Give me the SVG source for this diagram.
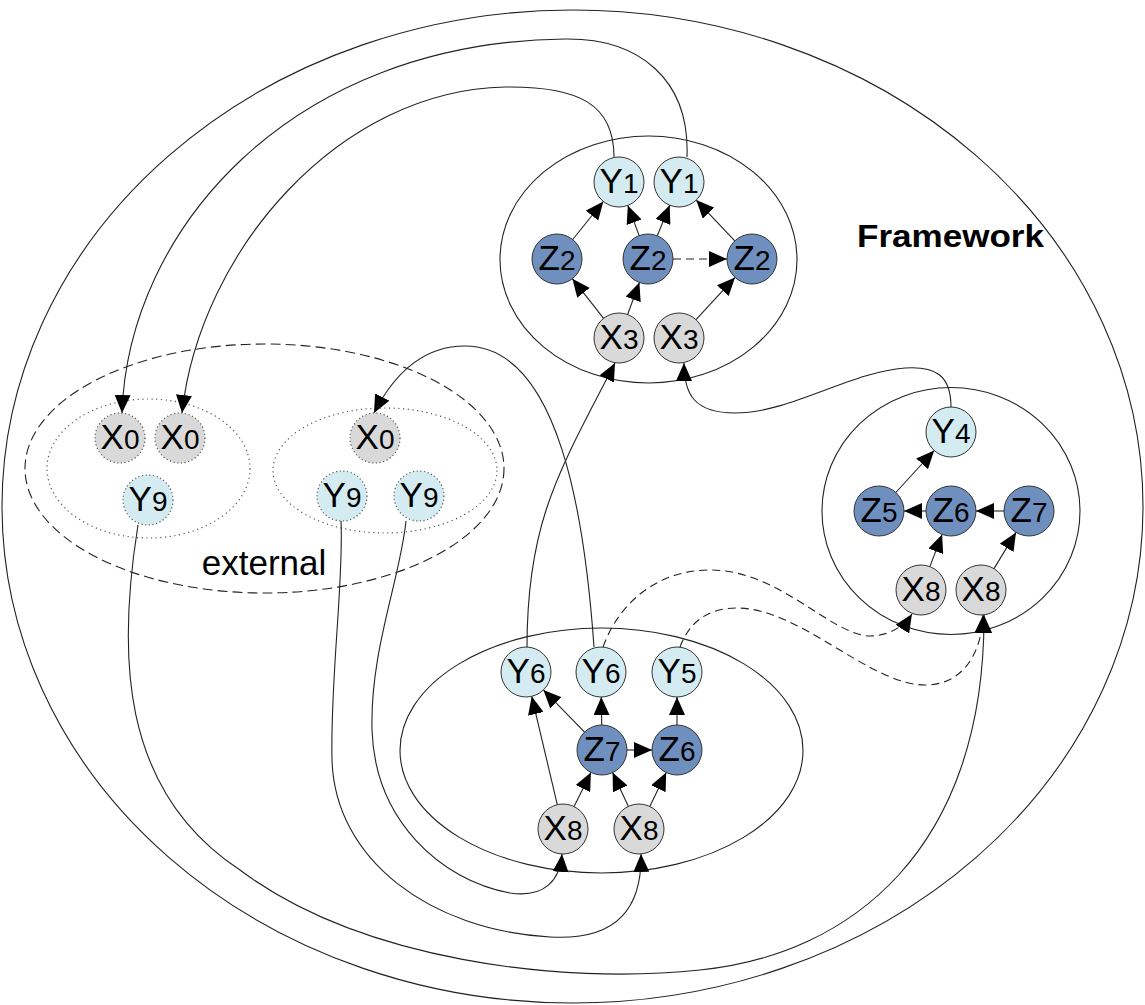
<svg xmlns="http://www.w3.org/2000/svg" width="1145" height="1005" viewBox="0 0 1145 1005">
  <defs>
    <marker id="arrow" markerUnits="userSpaceOnUse" markerWidth="18" markerHeight="16" viewBox="0 0 18 16" refX="18" refY="8" orient="auto">
      <path d="M0,0 L18,8 L0,16 z" fill="#000"/>
    </marker>
    <style>
      .frame { fill: none; stroke: #222; stroke-width: 1.1; }
      .ext { fill: none; stroke: #222; stroke-width: 1.1; stroke-dasharray: 10 5; }
      .group { fill: none; stroke: #555; stroke-width: 1.2; stroke-dasharray: 1.2 3.5; }
      .edge { fill: none; stroke: #222; stroke-width: 1.1; marker-end: url(#arrow); }
      .dash { stroke-dasharray: 8 5; }
      .y { fill: #d4ecf1; stroke: #333; stroke-width: 1; }
      .z { fill: #6f8fbe; stroke: #333; stroke-width: 1; }
      .x { fill: #d9d9d9; stroke: #333; stroke-width: 1; }
      .obs { stroke: #555; stroke-width: 1.2; stroke-dasharray: 1.2 2.5; }
      .lbl { font-family: "Liberation Sans", Arial, sans-serif; font-size: 35px; fill: #000; text-anchor: middle; }
      .sub { font-size: 28px; }
      .title { font-family: "Liberation Sans", Arial, sans-serif; font-size: 32px; font-weight: bold; fill: #000; }
      .caption { font-family: "Liberation Sans", Arial, sans-serif; font-size: 35px; fill: #000; text-anchor: middle; }
    </style>
  </defs>

  <rect width="1145" height="1005" fill="#fff"/>

  <!-- enclosing regions -->
  <g id="regions">
    <ellipse id="framework" class="frame" cx="572.5" cy="506.5" rx="570.5" ry="496.5"/>
    <ellipse id="external-region" class="ext" cx="264.5" cy="468.5" rx="239.5" ry="124.5"/>
    <ellipse id="ext-left" class="group" cx="148.5" cy="468.5" rx="101.5" ry="69.5"/>
    <ellipse id="ext-right" class="group" cx="385" cy="470.5" rx="112" ry="62.5"/>
    <ellipse id="cluster-top" class="frame" cx="648.5" cy="259.5" rx="148.5" ry="123.5"/>
    <ellipse id="cluster-bottom" class="frame" cx="601.5" cy="750.5" rx="201.5" ry="122.5"/>
    <ellipse id="cluster-right" class="frame" cx="951" cy="511" rx="129" ry="123.5"/>
    <text class="title" x="857" y="247" textLength="187" lengthAdjust="spacingAndGlyphs">Framework</text>
    <text class="caption" x="264" y="575">external</text>
  </g>

  <!-- connectors -->
  <g id="connectors">
    <!-- top cluster -->
    <line class="edge" x1="572.7" y1="239.5" x2="603.3" y2="201.5"/>
    <line class="edge" x1="639.2" y1="235.6" x2="627.8" y2="205.4"/>
    <line class="edge" x1="657.3" y1="235.8" x2="669.7" y2="205.2"/>
    <line class="edge" x1="734.8" y1="240.9" x2="696.2" y2="200.1"/>
    <line class="edge" x1="603.6" y1="318.3" x2="572.4" y2="278.7"/>
    <line class="edge" x1="627.6" y1="314.5" x2="639.4" y2="282.5"/>
    <line class="edge" x1="696" y1="319.6" x2="735" y2="277.4"/>
    <line class="edge dash" x1="673" y1="259" x2="727" y2="259"/>

    <!-- bottom cluster -->
    <line class="edge" x1="557.3" y1="804.7" x2="531.7" y2="696.3"/>
    <line class="edge" x1="574.1" y1="806.6" x2="590.9" y2="772.4"/>
    <line class="edge" x1="628.4" y1="806.4" x2="612.6" y2="772.6"/>
    <line class="edge" x1="649.8" y1="806.5" x2="666.2" y2="772.5"/>
    <line class="edge" x1="584.6" y1="732.1" x2="543.4" y2="689.9"/>
    <line class="edge" x1="601.7" y1="725" x2="601.3" y2="697"/>
    <line class="edge" x1="627" y1="750" x2="652" y2="750"/>
    <line class="edge" x1="677" y1="725" x2="677" y2="697"/>

    <!-- right cluster -->
    <line class="edge" x1="895.8" y1="492.5" x2="934.2" y2="450.5"/>
    <line class="edge" x1="926" y1="511" x2="904" y2="511"/>
    <line class="edge" x1="1004" y1="511" x2="976" y2="511"/>
    <line class="edge" x1="929.9" y1="566.6" x2="942.1" y2="534.4"/>
    <line class="edge" x1="994" y1="568.6" x2="1016" y2="532.4"/>

    <!-- long-range links -->
    <path class="edge" d="M687 157 C690 80 640 38 565 39 C290 42 128 230 122 413"/>
    <path class="edge" d="M614 157 C614 105 580 86 505 87 C340 90 200 250 182 413"/>
    <path class="edge" d="M594 647 C585 520 560 346 465 346 C420 346 392 378 374 413"/>
    <path class="edge" d="M527 647 C527 520 560 470 615 363"/>
    <path class="edge" d="M951 407 C951 375 935 366 905 368 C850 372 790 413 735 413 C695 413 684 395 684 363"/>
    <path class="edge" d="M138 525 C118 650 118 790 240 870 C360 960 560 985 700 970 C850 955 985 850 984 615"/>
    <path class="edge" d="M341 521 C344 580 330 680 332 760 C335 860 430 930 550 937 C620 941 642 905 641 854"/>
    <path class="edge" d="M406 521 C400 580 370 650 372 730 C375 820 440 880 510 893 C545 898 560 880 562 854"/>
    <path class="edge dash" d="M603 647 C620 600 660 570 710 570 C780 570 830 635 870 636 C890 636 905 625 912 614"/>
    <path class="edge dash" d="M680 647 C690 620 710 608 737 608 C800 608 870 685 925 685 C965 685 982 650 983 615"/>
  </g>

  <!-- top cluster nodes -->
  <g id="n-y1a"><circle class="y" cx="619" cy="182" r="25"/><text class="lbl" x="619" y="193">Y<tspan class="sub">1</tspan></text></g>
  <g id="n-y1b"><circle class="y" cx="679" cy="182" r="25"/><text class="lbl" x="679" y="193">Y<tspan class="sub">1</tspan></text></g>
  <g id="n-z2a"><circle class="z" cx="557" cy="259" r="25"/><text class="lbl" x="557" y="270">Z<tspan class="sub">2</tspan></text></g>
  <g id="n-z2b"><circle class="z" cx="648" cy="259" r="25"/><text class="lbl" x="648" y="270">Z<tspan class="sub">2</tspan></text></g>
  <g id="n-z2c"><circle class="z" cx="752" cy="259" r="25"/><text class="lbl" x="752" y="270">Z<tspan class="sub">2</tspan></text></g>
  <g id="n-x3a"><circle class="x" cx="619" cy="338" r="25"/><text class="lbl" x="619" y="349">X<tspan class="sub">3</tspan></text></g>
  <g id="n-x3b"><circle class="x" cx="679" cy="338" r="25"/><text class="lbl" x="679" y="349">X<tspan class="sub">3</tspan></text></g>

  <!-- external nodes -->
  <g id="n-x0a"><circle class="x obs" cx="120" cy="438" r="25"/><text class="lbl" x="120" y="449">X<tspan class="sub">0</tspan></text></g>
  <g id="n-x0b"><circle class="x obs" cx="180" cy="438" r="25"/><text class="lbl" x="180" y="449">X<tspan class="sub">0</tspan></text></g>
  <g id="n-y9a"><circle class="y obs" cx="148" cy="500" r="25"/><text class="lbl" x="148" y="511">Y<tspan class="sub">9</tspan></text></g>
  <g id="n-x0c"><circle class="x obs" cx="375" cy="438" r="25"/><text class="lbl" x="375" y="449">X<tspan class="sub">0</tspan></text></g>
  <g id="n-y9b"><circle class="y obs" cx="342" cy="496" r="25"/><text class="lbl" x="342" y="507">Y<tspan class="sub">9</tspan></text></g>
  <g id="n-y9c"><circle class="y obs" cx="419" cy="496" r="25"/><text class="lbl" x="419" y="507">Y<tspan class="sub">9</tspan></text></g>

  <!-- bottom cluster nodes -->
  <g id="n-y6a"><circle class="y" cx="526" cy="672" r="25"/><text class="lbl" x="526" y="683">Y<tspan class="sub">6</tspan></text></g>
  <g id="n-y6b"><circle class="y" cx="601" cy="672" r="25"/><text class="lbl" x="601" y="683">Y<tspan class="sub">6</tspan></text></g>
  <g id="n-y5"><circle class="y" cx="677" cy="672" r="25"/><text class="lbl" x="677" y="683">Y<tspan class="sub">5</tspan></text></g>
  <g id="n-z7"><circle class="z" cx="602" cy="750" r="25"/><text class="lbl" x="602" y="761">Z<tspan class="sub">7</tspan></text></g>
  <g id="n-z6"><circle class="z" cx="677" cy="750" r="25"/><text class="lbl" x="677" y="761">Z<tspan class="sub">6</tspan></text></g>
  <g id="n-x8a"><circle class="x" cx="563" cy="829" r="25"/><text class="lbl" x="563" y="840">X<tspan class="sub">8</tspan></text></g>
  <g id="n-x8b"><circle class="x" cx="639" cy="829" r="25"/><text class="lbl" x="639" y="840">X<tspan class="sub">8</tspan></text></g>

  <!-- right cluster nodes -->
  <g id="n-y4"><circle class="y" cx="951" cy="432" r="25"/><text class="lbl" x="951" y="443">Y<tspan class="sub">4</tspan></text></g>
  <g id="n-z5"><circle class="z" cx="879" cy="511" r="25"/><text class="lbl" x="879" y="522">Z<tspan class="sub">5</tspan></text></g>
  <g id="n-z6r"><circle class="z" cx="951" cy="511" r="25"/><text class="lbl" x="951" y="522">Z<tspan class="sub">6</tspan></text></g>
  <g id="n-z7r"><circle class="z" cx="1029" cy="511" r="25"/><text class="lbl" x="1029" y="522">Z<tspan class="sub">7</tspan></text></g>
  <g id="n-x8c"><circle class="x" cx="921" cy="590" r="25"/><text class="lbl" x="921" y="601">X<tspan class="sub">8</tspan></text></g>
  <g id="n-x8d"><circle class="x" cx="981" cy="590" r="25"/><text class="lbl" x="981" y="601">X<tspan class="sub">8</tspan></text></g>
</svg>
